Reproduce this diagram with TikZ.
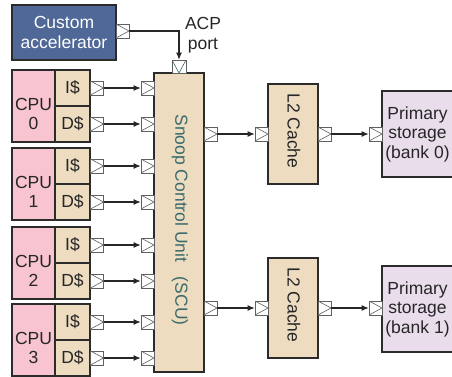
\documentclass[tikz,border=0pt]{standalone}
\usepackage{fontspec}
\setmainfont{Liberation Sans}
\usetikzlibrary{arrows.meta}
\definecolor{accblue}{HTML}{4F6897}
\definecolor{cpupink}{HTML}{F8C4CF}
\definecolor{beige}{HTML}{EDDCC0}
\definecolor{lav}{HTML}{E9DDEC}
\definecolor{teal2}{HTML}{3A6B6B}
\definecolor{boxline}{HTML}{2B2B2B}
\definecolor{portline}{HTML}{606060}
\begin{document}
\begin{tikzpicture}[x=1pt,y=-1pt,
  box/.style={draw=boxline, line width=1.5pt, inner sep=0pt},
  lbl/.style={font=\fontsize{17.5}{19.5}\selectfont, align=center, inner sep=0pt, text=black!85},
  port/.style={draw=portline, line width=0.6pt, fill=white, minimum width=13pt, minimum height=14pt, inner sep=0pt,
    path picture={\draw[portline,line width=0.6pt] (path picture bounding box.north west) -- (path picture bounding box.east) -- (path picture bounding box.south west);}},
  portdown/.style={draw=portline, line width=0.6pt, fill=white, minimum width=14pt, minimum height=13pt, inner sep=0pt,
    path picture={\draw[teal2,line width=0.6pt] (path picture bounding box.north west) -- (path picture bounding box.south) -- (path picture bounding box.north east);}},
  conn/.style={draw=black!85, line width=1.1pt, -{Latex[length=7pt,width=6pt]}}
]
\useasboundingbox (0,0) rectangle (452,376);

% Custom accelerator
\node[box, fill=accblue, minimum width=104pt, minimum height=55pt, lbl, text=white] (acc) at (64,32.5) {Custom\\accelerator};
\node[port] (accp) at (122.5,31) {};

% SCU
\node[box, fill=beige, minimum width=50pt, minimum height=299pt] (scu) at (179,222.5) {};
\node[lbl, text=teal2, rotate=-90] (scutxt) at (180,220) {Snoop Control Unit\ \ \ (SCU)};
\node[portdown] (acpp) at (179,66.5) {};
\node[lbl] (acptxt) at (203,35) {ACP\\port};
\draw[conn] (accp.east) -| (acpp.north);

% CPUs
\foreach \i/\t in {0/70,1/148,2/227,3/304}{
  \node[box, fill=cpupink, minimum width=43pt, minimum height=72pt] (cpu\i) at (33.5,{\t+36}) {};
  \node[lbl] (cpulbl\i) at (33.5,{\t+44}) {CPU\\\i};
  \node[box, fill=beige, minimum width=35pt, minimum height=36pt, lbl] (ic\i) at (72.5,{\t+18}) {I\$};
  \node[box, fill=beige, minimum width=35pt, minimum height=36pt, lbl] (dc\i) at (72.5,{\t+54}) {D\$};
  \node[port] (ip\i) at (97,{\t+18}) {};
  \node[port] (dp\i) at (97,{\t+54}) {};
  \node[port] (si\i) at (147.5,{\t+18}) {};
  \node[port] (sd\i) at (147.5,{\t+54}) {};
  \draw[conn] (ip\i.east) -- (si\i.west);
  \draw[conn] (dp\i.east) -- (sd\i.west);
}

% L2 caches and primary storage
\foreach \j/\y/\bt/\pt in {0/134/84/91,1/308/258/266}{
  \node[port] (so\j) at (210.5,\y) {};
  \node[box, fill=beige, minimum width=50pt, minimum height=100pt] (l2\j) at (293,{\bt+50}) {};
  \node[lbl, rotate=-90] (l2txt\j) at (294,{\bt+47}) {L2 Cache};
  \node[port] (l2i\j) at (261.5,\y) {};
  \node[port] (l2o\j) at (324.5,\y) {};
  \node[box, fill=lav, minimum width=78pt, minimum height=86pt] (ps\j) at (421,{\pt+43}) {};
  \node[lbl] (pstxt\j) at (417.5,{\pt+43}) {Primary\\storage\\(bank \j)};
  \node[port] (psi\j) at (375.5,\y) {};
  \draw[conn] (so\j.east) -- (l2i\j.west);
  \draw[conn] (l2o\j.east) -- (psi\j.west);
}
\end{tikzpicture}
\end{document}
